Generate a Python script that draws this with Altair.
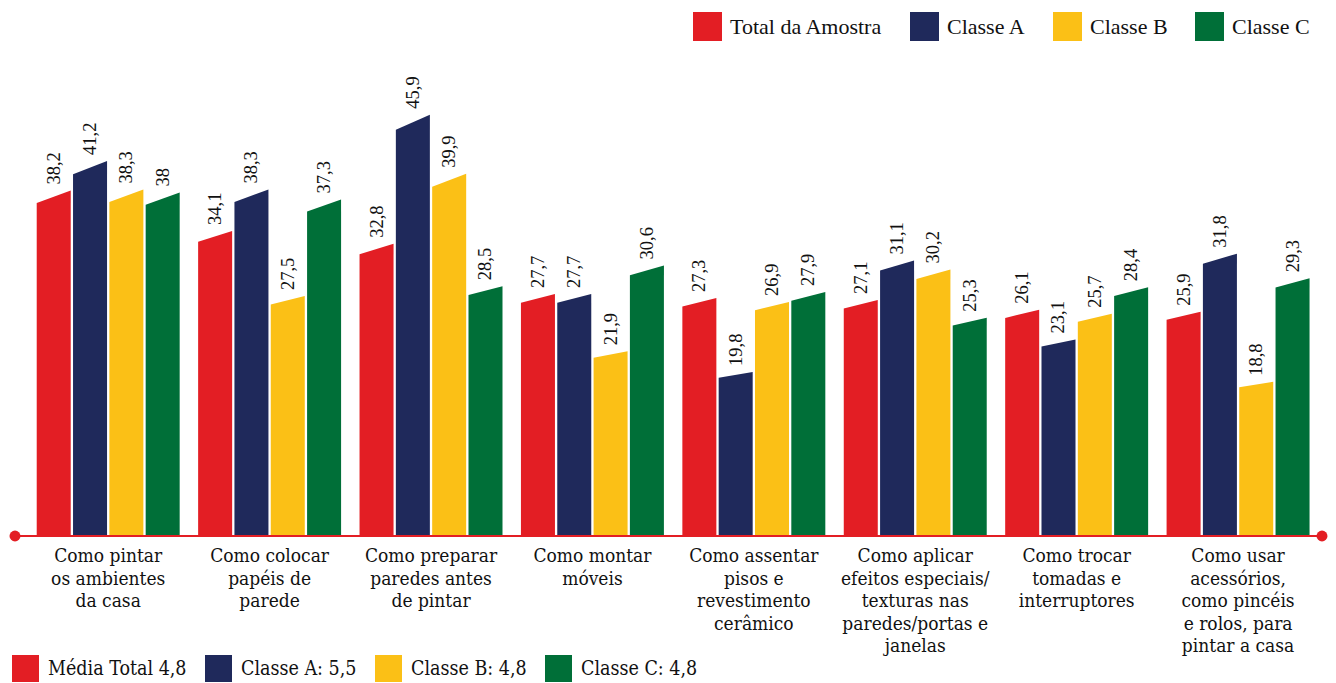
import altair as alt
import pandas as pd

categories = [
    "Como pintar\nos ambientes\nda casa",
    "Como colocar\npapéis de\nparede",
    "Como preparar\nparedes antes\nde pintar",
    "Como montar\nmóveis",
    "Como assentar\npisos e\nrevestimento\ncerâmico",
    "Como aplicar\nefeitos especiais/\ntexturas nas\nparedes/portas e\njanelas",
    "Como trocar\ntomadas e\ninterruptores",
    "Como usar\nacessórios,\ncomo pincéis\ne rolos, para\npintar a casa",
]
series = ["Total da Amostra", "Classe A", "Classe B", "Classe C"]
total = [38.2, 34.1, 32.8, 27.7, 27.3, 27.1, 26.1, 25.9]
classe_a = [41.2, 38.3, 45.9, 27.7, 19.8, 31.1, 23.1, 31.8]
classe_b = [38.3, 27.5, 39.9, 21.9, 26.9, 30.2, 25.7, 18.8]
classe_c = [38, 37.3, 28.5, 30.6, 27.9, 25.3, 28.4, 29.3]
colors = ["#E31E24", "#1F295B", "#FBC016", "#006F38"]
bottom_labels = ["Média Total 4,8", "Classe A: 5,5", "Classe B: 4,8", "Classe C: 4,8"]

values = [total, classe_a, classe_b, classe_c]

# layout / style constants (x in category-index units)
BAR_STEP = 0.225
BAR_W = 0.2107
SLANT = 0.037
X0, X1 = -0.5774, 7.520
Y_MIN, Y_MAX = 3.16, 58.7
W, H = 1307, 528

bar_rows, label_rows = [], []
for j, (s, vals) in enumerate(zip(series, values)):
    for i, v in enumerate(vals):
        left = i - 2 * BAR_STEP + j * BAR_STEP + (BAR_STEP - BAR_W) / 2
        right = left + BAR_W
        top_right = Y_MIN + (v - Y_MIN) * (1 + SLANT)
        bid = f"{i}-{j}"
        bar_rows.append(dict(x=left, y=v, serie=s, bar=bid))
        bar_rows.append(dict(x=right, y=top_right, serie=s, bar=bid))
        label_rows.append(dict(x=(left + right) / 2, y=top_right, serie=s,
                               txt=f"{v:g}".replace(".", ",")))

bars_df = pd.DataFrame(bar_rows)
labels_df = pd.DataFrame(label_rows)
cat_df = pd.DataFrame(dict(x=list(range(len(categories))), cat=categories))
leg2_df = pd.DataFrame(dict(item=bottom_labels, x=[0] * 4, y=[Y_MIN] * 4))
ends_df = pd.DataFrame(dict(x=[X0, X1], y=[Y_MIN, Y_MIN]))

xscale = alt.Scale(domain=[X0, X1], nice=False, zero=False)
yscale = alt.Scale(domain=[Y_MIN, Y_MAX], nice=False, zero=False)

top_legend = alt.Legend(
    orient="none", legendX=678, legendY=4, direction="horizontal", columns=4,
    title=None, symbolType="square", symbolSize=841, symbolStrokeWidth=0,
    labelFont="Liberation Serif", labelFontSize=22, labelColor="#111111",
    labelOffset=8, columnPadding=27, padding=0, labelLimit=300,
)
bottom_legend = alt.Legend(
    orient="none", legendX=-3, legendY=647, direction="horizontal", columns=4,
    title=None, symbolType="square", symbolSize=729, symbolStrokeWidth=0,
    symbolOpacity=1,
    labelFont="DejaVu Serif Condensed, DejaVu Serif", labelFontSize=19.5,
    labelColor="#111111", labelOffset=9, columnPadding=18, padding=0, labelLimit=300,
)

bars = alt.Chart(bars_df).mark_area(interpolate="linear", opacity=1).encode(
    x=alt.X("x:Q", scale=xscale, axis=None),
    y=alt.Y("y:Q", scale=yscale, axis=None, stack=None),
    y2=alt.datum(Y_MIN),
    color=alt.Color("serie:N", scale=alt.Scale(domain=series, range=colors),
                    legend=top_legend),
    detail="bar:N",
)

value_labels = alt.Chart(labels_df).mark_text(
    angle=270, align="left", baseline="middle", dx=6,
    font="Liberation Serif", fontSize=18.5, color="#111111",
).encode(
    x=alt.X("x:Q", scale=xscale),
    y=alt.Y("y:Q", scale=yscale),
    text="txt:N",
)

cat_labels = alt.Chart(cat_df).mark_text(
    align="center", baseline="top", dy=11, lineBreak="\n", lineHeight=22.5,
    font="DejaVu Serif Condensed, DejaVu Serif", fontSize=19, color="#111111",
).encode(
    x=alt.X("x:Q", scale=xscale),
    y=alt.datum(Y_MIN, scale=yscale),
    text="cat:N",
)

axis_line = alt.Chart(ends_df).mark_rule(color="#E31E24", strokeWidth=2).encode(
    y=alt.datum(Y_MIN, scale=yscale),
)
end_dots = alt.Chart(ends_df).mark_circle(color="#E31E24", size=120, opacity=1).encode(
    x=alt.X("x:Q", scale=xscale),
    y=alt.Y("y:Q", scale=yscale),
)

legend2 = alt.Chart(leg2_df).mark_square(opacity=0, size=1).encode(
    x=alt.X("x:Q", scale=xscale),
    y=alt.Y("y:Q", scale=yscale),
    fill=alt.Fill("item:N", scale=alt.Scale(domain=bottom_labels, range=colors),
                  legend=bottom_legend),
)

chart = alt.layer(bars, axis_line, end_dots, value_labels, cat_labels, legend2).properties(
    width=W, height=H,
    autosize=alt.AutoSizeParams(type="none"),
    padding={"left": 7, "top": 0, "right": 6, "bottom": 147},
    background="white",
).configure_view(stroke=None)

chart.save("out.html", embed_options={"renderer": "svg", "actions": False})
